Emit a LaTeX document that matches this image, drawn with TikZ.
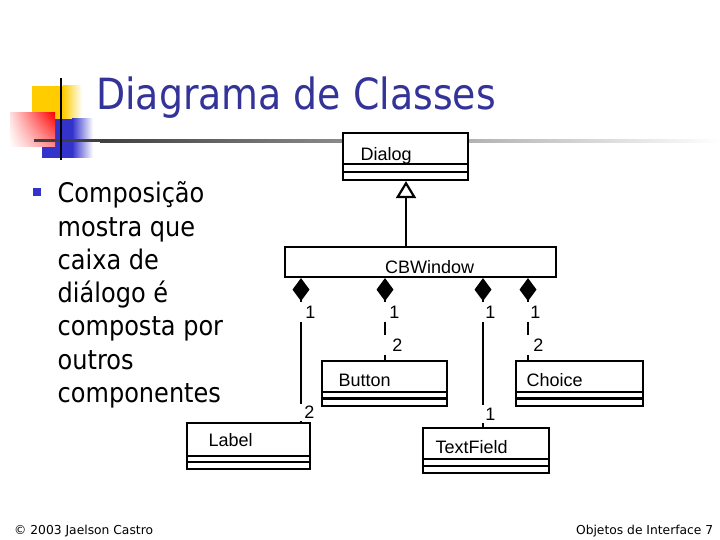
\documentclass[tikz,border=0pt]{standalone}
\usepackage{fontspec}
\usepackage{graphicx}
\usetikzlibrary{arrows.meta,shadings}
\newfontfamily\arialf{Liberation Sans}
\newfontfamily\tahomaf{DejaVu Sans}
\definecolor{titleblue}{RGB}{51,51,153}
\definecolor{bulletblue}{RGB}{51,51,204}
\definecolor{sqyellow}{RGB}{255,204,0}
\definecolor{sqblue}{RGB}{51,51,204}
\begin{document}
\begin{tikzpicture}[x=1pt,y=-1pt,
  cls/.style={draw=black, line width=2.2pt, fill=white, inner sep=0pt},
  cline/.style={line width=2.2pt},
  clsname/.style={font=\arialf\fontsize{18}{21}\selectfont, inner sep=0pt, anchor=base west},
  mult/.style={font=\arialf\fontsize{18}{21}\selectfont, fill=white, inner sep=0pt, anchor=east, align=right, text width=#1},
  comp/.style={line width=2.2pt, {Diamond[length=23pt,width=17pt,line width=0pt]}-},
  gen/.style={line width=2.2pt, -{Triangle[open,length=17pt,width=20pt,fill=white]}},
  body/.style={font=\tahomaf\fontsize{27}{30}\selectfont, inner sep=0pt, anchor=base west},
  foot/.style={font=\tahomaf\fontsize{12.3}{15}\selectfont, inner sep=0pt},
]
\useasboundingbox (0,0) rectangle (720,540);

% decoration squares
\fill[sqyellow] (32,86) rectangle (63,119);
\shade[left color=sqyellow, right color=white] (63,86) rectangle (82,119);
\fill[sqblue] (42,119) rectangle (72,158);
\shade[left color=sqblue, right color=white] (72,119) rectangle (93,158);
\shade[upper left=red!12, upper right=red, lower left=white, lower right=red!45] (10,113) rectangle (55,147);
\fill[black!75] (34,139.5) rectangle (100,142.5);
\shade[left color=black!75, right color=white] (100,139.5) rectangle (720,142.5);
\draw[line width=2.5pt] (61,78) -- (61,160);

% title
\node[font=\tahomaf\fontsize{43}{50}\selectfont, text=titleblue, inner sep=0pt, anchor=base west] (title) at (96,110) {\scalebox{0.88}[1]{Diagrama de Classes}};

% bullet text
\fill[bulletblue] (33,188) rectangle (41,196);
\node[body] (t1) at (57.5,203) {\scalebox{0.89}[1]{Composição}};
\node[body] (t2) at (57.5,236.2) {\scalebox{0.89}[1]{mostra que}};
\node[body] (t3) at (57.5,269.4) {\scalebox{0.89}[1]{caixa de}};
\node[body] (t4) at (57.5,302.6) {\scalebox{0.89}[1]{diálogo é}};
\node[body] (t5) at (57.5,335.8) {\scalebox{0.89}[1]{composta por}};
\node[body] (t6) at (57.5,369) {\scalebox{0.89}[1]{outros}};
\node[body] (t7) at (57.5,402.2) {\scalebox{0.89}[1]{componentes}};

% class boxes
\node[cls, minimum width=125pt, minimum height=47pt] (dialog) at (405.5,156.5) {};
\draw[cline] (dialog.west |- 0,164) -- (dialog.east |- 0,164);
\draw[cline] (dialog.west |- 0,172) -- (dialog.east |- 0,172);
\node[clsname] (dialogt) at (360.5,161) {Dialog};

\node[cls, minimum width=271pt, minimum height=30pt] (cbw) at (420.5,262) {};
\node[clsname] (cbwt) at (385,273) {CBWindow};

\node[cls, minimum width=125pt, minimum height=45pt] (button) at (384.5,383.5) {};
\draw[cline] (button.west |- 0,392) -- (button.east |- 0,392);
\draw[cline] (button.west |- 0,398.5) -- (button.east |- 0,398.5);
\node[clsname] (buttont) at (338.5,386.5) {Button};

\node[cls, minimum width=127pt, minimum height=45pt] (choice) at (579.5,383.5) {};
\draw[cline] (choice.west |- 0,392) -- (choice.east |- 0,392);
\draw[cline] (choice.west |- 0,398.5) -- (choice.east |- 0,398.5);
\node[clsname] (choicet) at (526.5,386) {Choice};

\node[cls, minimum width=123pt, minimum height=46pt] (label) at (248.5,446) {};
\draw[cline] (label.west |- 0,456) -- (label.east |- 0,456);
\draw[cline] (label.west |- 0,462) -- (label.east |- 0,462);
\node[clsname] (labelt) at (208.5,446) {Label};

\node[cls, minimum width=126pt, minimum height=45pt] (textfield) at (486,450.5) {};
\draw[cline] (textfield.west |- 0,459) -- (textfield.east |- 0,459);
\draw[cline] (textfield.west |- 0,466) -- (textfield.east |- 0,466);
\node[clsname] (textfieldt) at (435.5,453) {TextField};

% connectors
\coordinate (x0) at (406,0);
\coordinate (x1) at (301,0);
\coordinate (x2) at (385,0);
\coordinate (x3) at (483,0);
\coordinate (x4) at (528,0);
\draw[gen] (cbw.north -| x0) -- (dialog.south -| x0);
\draw[comp] (cbw.south -| x1) -- (label.north -| x1);
\draw[comp] (cbw.south -| x2) -- (button.north -| x2);
\draw[comp] (cbw.south -| x3) -- (textfield.north -| x3);
\draw[comp] (cbw.south -| x4) -- (choice.north -| x4);

% multiplicities
\node[mult=16.5pt, minimum height=20pt] (m1a) at (315.5,312) {1};
\node[mult=15pt, minimum height=17pt] (m1b) at (314.5,412) {2};
\node[mult=16.5pt, minimum height=20pt] (m2a) at (399.5,312) {1};
\node[mult=19pt, minimum height=20pt] (m2b) at (402.5,345) {2};
\node[mult=14.5pt, minimum height=20pt] (m3a) at (495.5,312) {1};
\node[mult=14.5pt, minimum height=18pt] (m3b) at (495.5,414) {1};
\node[mult=14.5pt, minimum height=20pt] (m4a) at (540.5,312) {1};
\node[mult=17pt, minimum height=20pt] (m4b) at (543.5,345) {2};

% footer
\node[foot, anchor=base west] (f1) at (14,534) {© 2003 Jaelson Castro};
\node[foot, anchor=base east] (f2) at (713.5,534) {Objetos de Interface 7};
\end{tikzpicture}
\end{document}
